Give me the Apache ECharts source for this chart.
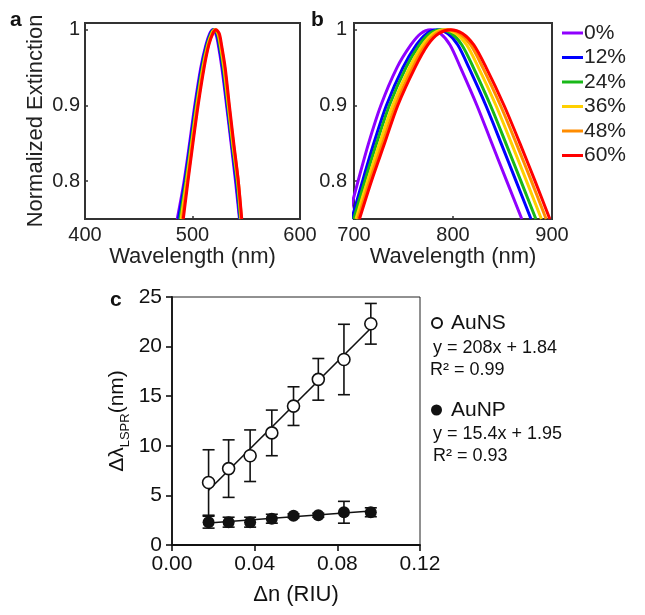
<!DOCTYPE html>
<html>
<head>
<meta charset="utf-8">
<script src="https://cdn.jsdelivr.net/npm/echarts@6/dist/echarts.min.js"></script>
<style>
html, body { margin: 0; padding: 0; background: #fff; }
#main { width: 645px; height: 615px; }
</style>
</head>
<body>
<div id="main"></div>
<script>
var FONT = '"Liberation Sans", Arial, sans-serif';

// refractive index fractions (legend of panel b)
var fracNames = ['0%', '12%', '24%', '36%', '48%', '60%'];
var fracColors = ['#8f00ff', '#0000ff', '#18b818', '#ffd000', '#ff8c00', '#ff0000'];

// panel a: extinction levels, and wavelength where each curve passes them
var levelsA = [0.75, 0.80, 0.85, 0.90, 0.95, 0.98, 0.995, 1.0, 0.995, 0.98, 0.95, 0.90, 0.85, 0.80, 0.75];
var wlA_0 = [485.8, 492.2, 497.3, 502.1, 507.7, 512.5, 516.0, 518.8, 521.6, 524.0, 527.3, 531.7, 535.9, 540.0, 543.7];
var wlA_12 = [486.9, 492.9, 497.9, 502.7, 508.3, 513.0, 516.6, 519.4, 522.3, 524.6, 527.9, 532.2, 536.4, 540.6, 544.1];
var wlA_24 = [488.3, 493.8, 498.7, 503.5, 509.1, 513.7, 517.3, 520.2, 523.1, 525.4, 528.7, 532.9, 537.0, 541.4, 544.6];
var wlA_36 = [489.4, 494.5, 499.3, 504.1, 509.7, 514.3, 517.9, 520.8, 523.7, 526.0, 529.3, 533.4, 537.5, 542.0, 545.1];
var wlA_48 = [490.6, 495.3, 499.9, 504.7, 510.3, 514.8, 518.5, 521.4, 524.2, 526.6, 529.9, 533.9, 538.0, 542.6, 545.5];
var wlA_60 = [491.4, 495.8, 500.4, 505.2, 510.8, 515.2, 518.9, 521.9, 524.9, 527.0, 530.4, 534.3, 538.4, 542.6, 545.8];

// panel b
var levelsB = [0.75, 0.80, 0.85, 0.90, 0.95, 0.98, 0.995, 1.0, 0.995, 0.98, 0.95, 0.90, 0.85, 0.80, 0.75];
var wlB_0 = [693.8, 704.1, 714.7, 727.1, 743.4, 757.4, 767.4, 777.4, 787.4, 797.0, 807.6, 824.2, 839.2, 854.3, 869.5];
var wlB_12 = [697.7, 708.6, 720.0, 732.7, 749.4, 763.0, 773.4, 784.1, 794.7, 804.9, 816.1, 833.2, 848.6, 863.7, 878.8];
var wlB_24 = [699.7, 710.9, 722.8, 735.7, 752.5, 766.0, 776.5, 787.5, 798.5, 809.0, 820.6, 837.9, 853.4, 868.6, 883.7];
var wlB_36 = [702.0, 713.6, 726.0, 739.1, 756.1, 769.4, 780.1, 791.5, 802.9, 813.8, 825.7, 843.4, 859.1, 874.3, 889.3];
var wlB_48 = [704.0, 715.8, 728.8, 742.0, 759.2, 772.3, 783.2, 795.0, 806.7, 817.9, 830.1, 848.0, 863.9, 879.2, 894.1];
var wlB_60 = [705.5, 717.6, 730.9, 744.2, 761.6, 774.5, 785.6, 797.6, 809.6, 821.0, 833.5, 851.6, 867.6, 882.9, 897.8];

// panel c
var dn = [0.0177, 0.0274, 0.0378, 0.0483, 0.0588, 0.0708, 0.0832, 0.0962];
var shiftNS = [6.3, 7.7, 9.0, 11.3, 14.0, 16.7, 18.7, 22.3];
var errNS = [3.3, 2.9, 2.6, 2.3, 1.95, 2.1, 3.55, 2.05];
var shiftNP = [2.3, 2.3, 2.3, 2.65, 2.95, 3.0, 3.3, 3.3];
var errNP = [0.6, 0.5, 0.5, 0.45, 0.2, 0.2, 1.1, 0.45];
var fitSlope = [208, 15.4];
var fitIntercept = [1.84, 1.95];
var fitR2 = ['0.99', '0.93'];

var chart = echarts.init(document.getElementById('main'));

function pairs(wl, lv) {
	return wl.map(function(w, i) {
		return [w, lv[i]];
	});
}

function errorBar(params, api) {
	var x = api.value(0), y = api.value(1), e = api.value(2);
	var top = api.coord([x, y + e]);
	var bot = api.coord([x, y - e]);
	var w = 6;
	var st = { stroke: '#111', lineWidth: 1.6 };
	return {
		type: 'group',
		children: [
			{ type: 'line', shape: { x1: top[0], y1: top[1], x2: bot[0], y2: bot[1] }, style: st },
			{ type: 'line', shape: { x1: top[0] - w, y1: top[1], x2: top[0] + w, y2: top[1] }, style: st },
			{ type: 'line', shape: { x1: bot[0] - w, y1: bot[1], x2: bot[0] + w, y2: bot[1] }, style: st }
		]
	};
}

function fitLine(k) {
	var x0 = dn[0], x1 = dn[dn.length - 1];
	return [[x0, fitSlope[k] * x0 + fitIntercept[k]], [x1, fitSlope[k] * x1 + fitIntercept[k]]];
}

var wlA = [wlA_0, wlA_12, wlA_24, wlA_36, wlA_48, wlA_60];
var wlB = [wlB_0, wlB_12, wlB_24, wlB_36, wlB_48, wlB_60];

var series = [];
fracNames.forEach(function(n, i) {
	series.push({
		name: n, type: 'line', xAxisIndex: 0, yAxisIndex: 0,
		data: pairs(wlA[i], levelsA), smooth: 0.3, symbol: 'none',
		lineStyle: { color: fracColors[i], width: 3 }, itemStyle: { color: fracColors[i] },
		animation: false
	});
});
fracNames.forEach(function(n, i) {
	series.push({
		name: n, type: 'line', xAxisIndex: 1, yAxisIndex: 1,
		data: pairs(wlB[i], levelsB), smooth: 0.3, symbol: 'none',
		lineStyle: { color: fracColors[i], width: 3 }, itemStyle: { color: fracColors[i] },
		animation: false
	});
});

series.push({
	name: 'errNS', type: 'custom', xAxisIndex: 2, yAxisIndex: 2,
	renderItem: errorBar,
	data: dn.map(function(x, i) { return [x, shiftNS[i], errNS[i]]; }),
	z: 2, animation: false
}, {
	name: 'errNP', type: 'custom', xAxisIndex: 2, yAxisIndex: 2,
	renderItem: errorBar,
	data: dn.map(function(x, i) { return [x, shiftNP[i], errNP[i]]; }),
	z: 2, animation: false
}, {
	name: 'fitNS', type: 'line', xAxisIndex: 2, yAxisIndex: 2,
	data: fitLine(0), symbol: 'none', lineStyle: { color: '#111', width: 1.6 },
	z: 3, animation: false
}, {
	name: 'fitNP', type: 'line', xAxisIndex: 2, yAxisIndex: 2,
	data: fitLine(1), symbol: 'none', lineStyle: { color: '#111', width: 1.6 },
	z: 3, animation: false
}, {
	name: 'AuNS', type: 'scatter', xAxisIndex: 2, yAxisIndex: 2,
	data: dn.map(function(x, i) { return [x, shiftNS[i]]; }),
	symbol: 'circle', symbolSize: 12,
	itemStyle: { color: '#fff', borderColor: '#111', borderWidth: 1.6, opacity: 1 },
	z: 4, animation: false
}, {
	name: 'AuNP', type: 'scatter', xAxisIndex: 2, yAxisIndex: 2,
	data: dn.map(function(x, i) { return [x, shiftNP[i]]; }),
	symbol: 'circle', symbolSize: 12,
	itemStyle: { color: '#111', opacity: 1 },
	z: 4, animation: false
});

var tickLbl = { fontFamily: FONT, fontSize: 20, color: '#222' };
var nameSt = { fontFamily: FONT, fontSize: 22, color: '#222' };

function specXAxis(idx, lo, hi) {
	return {
		type: 'value', gridIndex: idx, min: lo, max: hi, interval: 100,
		axisLine: { show: false },
		axisTick: { show: true, inside: true, length: 3, lineStyle: { color: '#333', width: 1.5 } },
		axisLabel: Object.assign({ margin: 6 }, tickLbl),
		splitLine: { show: false },
		name: 'Wavelength (nm)', nameLocation: 'middle', nameGap: 27, nameTextStyle: nameSt
	};
}

function specYAxis(idx, margin) {
	return {
		type: 'value', gridIndex: idx, min: 0.75, max: 1.009,
		axisLine: { show: false },
		axisTick: { show: true, inside: true, length: 3, customValues: [0.8, 0.9, 1], lineStyle: { color: '#333', width: 1.5 } },
		axisLabel: Object.assign({
			margin: margin, customValues: [0.8, 0.9, 1],
			formatter: function(v) { return v === 1 ? '1' : v.toFixed(1); }
		}, tickLbl),
		splitLine: { show: false }
	};
}

var ya = specYAxis(0, 5);
ya.name = 'Normalized Extinction';
ya.nameLocation = 'middle';
ya.nameGap = 38;
ya.nameTextStyle = nameSt;

var option = {
	backgroundColor: '#fff',
	animation: false,
	grid: [
		{ left: 85, top: 23, width: 215, height: 196, show: true, borderColor: '#333', borderWidth: 2, backgroundColor: 'transparent' },
		{ left: 354, top: 23, width: 198, height: 196, show: true, borderColor: '#333', borderWidth: 2, backgroundColor: 'transparent' },
		{ left: 172, top: 297, width: 248, height: 248, show: true, borderColor: '#222', borderWidth: 1, backgroundColor: 'transparent' }
	],
	xAxis: [
		specXAxis(0, 400, 600),
		specXAxis(1, 700, 900),
		{
			type: 'value', gridIndex: 2, min: 0, max: 0.12, interval: 0.04,
			axisLine: { show: true, onZero: false, lineStyle: { color: '#111', width: 1.8 } },
			axisTick: { show: true, length: 6, lineStyle: { color: '#111', width: 1.6 } },
			axisLabel: Object.assign({ margin: 9, formatter: function(v) { return v.toFixed(2); } }, tickLbl, { fontSize: 21, color: '#111' }),
			splitLine: { show: false },
			name: 'Δn (RIU)', nameLocation: 'middle', nameGap: 39,
			nameTextStyle: { fontFamily: FONT, fontSize: 22, color: '#111' }
		}
	],
	yAxis: [
		ya,
		specYAxis(1, 7),
		{
			type: 'value', gridIndex: 2, min: 0, max: 25, interval: 5,
			axisLine: { show: true, onZero: false, lineStyle: { color: '#111', width: 1.8 } },
			axisTick: { show: true, length: 6, lineStyle: { color: '#111', width: 1.6 } },
			axisLabel: Object.assign({ margin: 10 }, tickLbl, { fontSize: 21, color: '#111' }),
			splitLine: { show: false },
			name: '{g|Δλ}{s|LSPR}{g|(nm)}', nameLocation: 'middle', nameGap: 40,
			nameTextStyle: {
				rich: {
					g: { fontFamily: FONT, fontSize: 21, color: '#111', lineHeight: 30 },
					s: { fontFamily: FONT, fontSize: 13, color: '#111', lineHeight: 13, verticalAlign: 'bottom' }
				}
			}
		}
	],
	legend: [{
		data: fracNames, orient: 'vertical', left: 557, top: 17,
		icon: 'rect', itemWidth: 21, itemHeight: 3, itemGap: 2.5,
		textStyle: { fontFamily: FONT, fontSize: 21, color: '#222', lineHeight: 22, padding: [0, 0, 0, -4] },
		selectedMode: false
	}, {
		data: ['AuNS'], left: 426, top: 307, itemWidth: 10, itemHeight: 10,
		textStyle: { fontFamily: FONT, fontSize: 21, color: '#111', lineHeight: 22, padding: [0, 0, 0, 4] },
		selectedMode: false
	}, {
		data: ['AuNP'], left: 426, top: 394, itemWidth: 11, itemHeight: 11,
		textStyle: { fontFamily: FONT, fontSize: 21, color: '#111', lineHeight: 22, padding: [0, 0, 0, 4] },
		selectedMode: false
	}],
	graphic: [
		{ type: 'text', left: 10, top: 10, style: { text: 'a', font: 'bold 21px ' + FONT, fill: '#111' } },
		{ type: 'text', left: 311, top: 10, style: { text: 'b', font: 'bold 21px ' + FONT, fill: '#111' } },
		{ type: 'text', left: 110, top: 290, style: { text: 'c', font: 'bold 21px ' + FONT, fill: '#111' } },
		{ type: 'text', left: 433, top: 339, style: { text: 'y = ' + fitSlope[0] + 'x + ' + fitIntercept[0], font: '18px ' + FONT, fill: '#111' } },
		{ type: 'text', left: 430, top: 361, style: { text: 'R² = ' + fitR2[0], font: '18px ' + FONT, fill: '#111' } },
		{ type: 'text', left: 433, top: 425, style: { text: 'y = ' + fitSlope[1] + 'x + ' + fitIntercept[1], font: '18px ' + FONT, fill: '#111' } },
		{ type: 'text', left: 433, top: 447, style: { text: 'R² = ' + fitR2[1], font: '18px ' + FONT, fill: '#111' } }
	],
	series: series
};

chart.setOption(option);
</script>
</body>
</html>
